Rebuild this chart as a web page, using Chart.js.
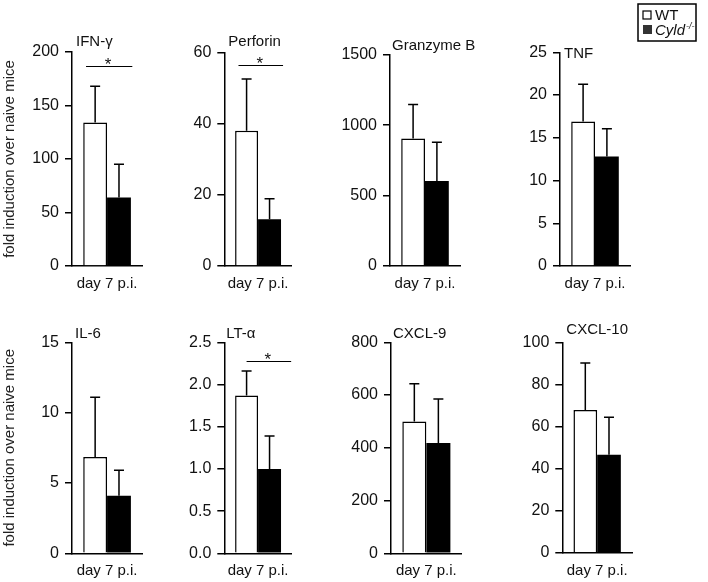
<!DOCTYPE html>
<html>
<head>
<meta charset="utf-8">
<script src="https://cdn.jsdelivr.net/npm/chart.js@4.4.0/dist/chart.umd.min.js"></script>
<style>
  html, body { margin: 0; padding: 0; background: #fff; }
  #wrap { position: relative; width: 708px; height: 582px; }
  #wrap canvas { position: absolute; }
</style>
</head>
<body>
<div id="wrap"></div>
<script>
// values
const cytokines = ['IFN-γ', 'Perforin', 'Granzyme B', 'TNF', 'IL-6', 'LT-α', 'CXCL-9', 'CXCL-10'];
const wtMean   = [134, 38, 905, 16.9, 6.85, 1.87, 500, 67.8];
const wtErr    = [34, 14.5, 242, 4.35, 4.25, 0.29, 143, 22.4];
const cyldMean = [64, 13.1, 603, 12.8, 4.1, 1.0, 418, 46.5];
const cyldErr  = [31, 5.8, 275, 3.25, 1.8, 0.39, 167, 17.9];
const yMax  = [200, 60, 1500, 25, 15, 2.5, 800, 100];
const yStep = [50, 20, 500, 5, 5, 0.5, 200, 20];
const sigY  = [187, 56.3, null, null, null, 2.28, null, null]; // height of the "*" bracket
const xLabel = 'day 7 p.i.';
const yTitle = 'fold induction over naive mice';
const groups = ['WT', 'Cyld'];

const FONT = "'Liberation Sans', Arial, sans-serif";
Chart.defaults.font.family = FONT;

// page layout of each panel (canvas box + chart area), in px
const H = 291, XH = 25;
const frames = [
  { cx: 0,   cy: 0,   cw: 150, left: 72,    right: 143,   top: 52,    zero: 266,   tdx: 4, tdy: -6, span: [0.2, 0.86] },
  { cx: 150, cy: 0,   cw: 150, left: 224.3, right: 295,   top: 52.3,  zero: 266,   tdx: 4, tdy: -6, span: [0.21, 0.87] },
  { cx: 300, cy: 0,   cw: 180, left: 390,   right: 460,   top: 55,    zero: 265.7, tdx: 2, tdy: -5 },
  { cx: 470, cy: 0,   cw: 238, left: 560,   right: 630,   top: 52.3,  zero: 266,   tdx: 4, tdy: 6, legend: true },
  { cx: 0,   cy: 291, cw: 150, left: 72,    right: 143,   top: 342.3, zero: 553.3, tdx: 3, tdy: -4 },
  { cx: 150, cy: 291, cw: 150, left: 224.3, right: 295,   top: 342.3, zero: 553.3, tdx: 2, tdy: -4, span: [0.33, 0.99] },
  { cx: 300, cy: 291, cw: 180, left: 391,   right: 461.7, top: 342.3, zero: 553.3, tdx: 2, tdy: -4 },
  { cx: 470, cy: 291, cw: 238, left: 562.3, right: 632,   top: 342.3, zero: 552.7, tdx: 4, tdy: -8 }
];

// error bars, panel title, significance bracket, legend
const panelDecor = {
  id: 'panelDecor',
  afterDatasetsDraw(chart) {
    const ctx = chart.ctx, y = chart.scales.y;
    ctx.save();
    ctx.strokeStyle = '#000';
    ctx.lineWidth = 1.5;
    chart.data.datasets.forEach((ds, d) => {
      const bar = chart.getDatasetMeta(d).data[0];
      const top = y.getPixelForValue(ds.data[0] + ds.err[0]);
      ctx.beginPath();
      ctx.moveTo(bar.x, bar.y);
      ctx.lineTo(bar.x, top);
      ctx.moveTo(bar.x - 5, top);
      ctx.lineTo(bar.x + 5, top);
      ctx.stroke();
    });
    ctx.restore();
  },
  afterDraw(chart, args, opts) {
    const ctx = chart.ctx, a = chart.chartArea, y = chart.scales.y;
    ctx.save();
    ctx.fillStyle = '#111';
    ctx.font = '15px ' + FONT;
    ctx.textBaseline = 'alphabetic';
    ctx.textAlign = 'left';
    ctx.fillText(opts.title, a.left + opts.tdx, a.top + opts.tdy);

    if (opts.sig != null) {
      const yy = Math.round(y.getPixelForValue(opts.sig)) + 0.5;
      const x0 = a.left + opts.span[0] * (a.right - a.left);
      const x1 = a.left + opts.span[1] * (a.right - a.left);
      ctx.strokeStyle = '#000';
      ctx.lineWidth = 1.2;
      ctx.beginPath();
      ctx.moveTo(x0, yy);
      ctx.lineTo(x1, yy);
      ctx.stroke();
      ctx.font = '17px ' + FONT;
      ctx.textAlign = 'center';
      ctx.fillText('*', (x0 + x1) / 2 - 1, yy + 3);
    }

    if (opts.legend) {
      const lx = 168, ly = 4;
      ctx.strokeStyle = '#000';
      ctx.lineWidth = 1.5;
      ctx.strokeRect(lx, ly, 58, 37);
      ctx.lineWidth = 1.2;
      ctx.fillStyle = '#fff';
      ctx.fillRect(lx + 5, ly + 7, 8, 8);
      ctx.strokeRect(lx + 5, ly + 7, 8, 8);
      ctx.fillStyle = '#333';
      ctx.fillRect(lx + 5, ly + 21, 9, 9);
      ctx.fillStyle = '#111';
      ctx.textAlign = 'left';
      ctx.font = '15px ' + FONT;
      ctx.fillText(groups[0], lx + 17, ly + 16);
      ctx.font = 'italic 15px ' + FONT;
      ctx.fillText(groups[1], lx + 17, ly + 31);
      const w = ctx.measureText(groups[1]).width;
      ctx.font = 'italic 9px ' + FONT;
      ctx.fillText('-/-', lx + 18 + w, ly + 25);
    }
    ctx.restore();
  }
};

const wrap = document.getElementById('wrap');

function makePanel(i) {
  const f = frames[i];
  const canvas = document.createElement('canvas');
  canvas.width = f.cw;
  canvas.height = H;
  canvas.style.left = f.cx + 'px';
  canvas.style.top = f.cy + 'px';
  wrap.appendChild(canvas);

  new Chart(canvas, {
    type: 'bar',
    data: {
      labels: [xLabel],
      datasets: [
        { label: groups[0], data: [wtMean[i]], err: [wtErr[i]],
          backgroundColor: '#fff', borderColor: '#000', borderWidth: 1.5 },
        { label: groups[1], data: [cyldMean[i]], err: [cyldErr[i]],
          backgroundColor: '#000', borderColor: '#000', borderWidth: 0 }
      ]
    },
    options: {
      responsive: false,
      animation: false,
      layout: {
        padding: {
          left: 0,
          right: f.cx + f.cw - f.right,
          top: f.top - f.cy,
          bottom: H - (f.zero - f.cy) - XH
        }
      },
      datasets: { bar: { barPercentage: 1, categoryPercentage: 0.68 } },
      plugins: {
        legend: { display: false },
        tooltip: { enabled: false },
        panelDecor: { title: cytokines[i], tdx: f.tdx, tdy: f.tdy, sig: sigY[i], span: f.span, legend: !!f.legend }
      },
      scales: {
        x: {
          grid: { display: false, drawTicks: false },
          border: { color: '#000', width: 1.5 },
          ticks: { color: '#111', font: { size: 15 }, padding: 9 },
          afterFit(s) { s.height = XH; }
        },
        y: {
          min: 0,
          max: yMax[i],
          ticks: {
            stepSize: yStep[i],
            color: '#111',
            font: { size: 16 },
            padding: 6,
            callback: v => (yStep[i] < 1 ? v.toFixed(1) : v)
          },
          grid: { drawOnChartArea: false, tickLength: 7, color: '#000', lineWidth: 1.5 },
          border: { color: '#000', width: 1.5 },
          title: {
            display: i % 4 === 0,
            text: yTitle,
            color: '#222',
            font: { size: 15 },
            padding: { top: 1, bottom: 0 }
          },
          afterFit(s) { s.width = f.left - f.cx; }
        }
      }
    },
    plugins: [panelDecor]
  });
}

cytokines.forEach((c, i) => makePanel(i));
</script>
</body>
</html>
